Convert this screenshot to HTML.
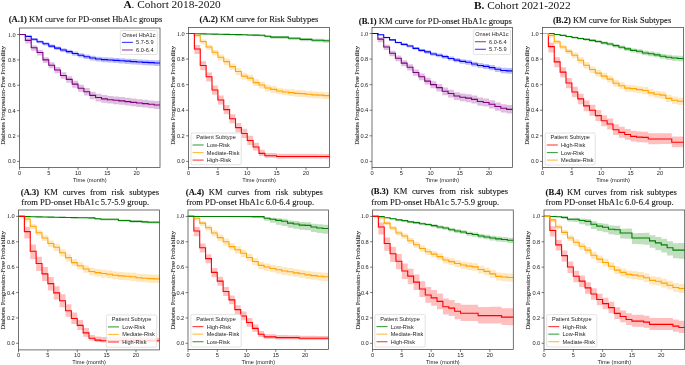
<!DOCTYPE html>
<html><head><meta charset="utf-8"><style>
html,body{margin:0;padding:0;background:#fff;overflow:hidden;}
svg{display:block;}
text{white-space:pre;}
.tk{font-family:"Liberation Sans",sans-serif;font-size:5.7px;fill:#262626;}
.ser{font-family:"Liberation Serif",serif;font-size:6.4px;fill:#262626;}
.yl{font-family:"Liberation Serif",serif;font-size:6.46px;fill:#1e1e1e;stroke:#1e1e1e;stroke-width:0.08px;}
.lg{font-family:"Liberation Sans",sans-serif;font-size:5.6px;fill:#262626;}
.ti{font-family:"Liberation Serif",serif;font-size:8.56px;fill:#111;stroke:#111;stroke-width:0.1px;}
.tib{font-family:"Liberation Serif",serif;font-size:8.56px;font-weight:bold;fill:#111;stroke:#111;stroke-width:0.1px;}
.hd{font-family:"Liberation Serif",serif;font-size:11.35px;fill:#111;}
</style></head><body>
<div style="will-change:transform;width:685px;height:365px"><svg width="685" height="365" viewBox="0 0 685 365">
<g>
<polygon points="25.35,35.68 31.21,35.68 31.21,38 37.06,38 37.06,40.4 42.92,40.4 42.92,42.31 48.77,42.31 48.77,44.61 54.62,44.61 54.62,46.41 60.48,46.41 60.48,48.21 66.33,48.21 66.33,49.76 72.19,49.76 72.19,51.56 78.04,51.56 78.04,53.23 83.9,53.23 83.9,54.53 89.75,54.53 89.75,55.7 95.6,55.7 95.6,56.68 101.46,56.68 101.46,57.27 107.31,57.27 107.31,57.61 113.17,57.61 113.17,57.96 119.02,57.96 119.02,58.3 124.88,58.3 124.88,58.64 130.73,58.64 130.73,59.11 136.58,59.11 136.58,59.45 142.44,59.45 142.44,59.79 148.29,59.79 148.29,60.01 154.15,60.01 154.15,60.35 160,60.35 160,65.99 154.15,65.99 154.15,65.57 148.29,65.57 148.29,65.27 142.44,65.27 142.44,64.85 136.58,64.85 136.58,64.43 130.73,64.43 130.73,63.88 124.88,63.88 124.88,63.46 119.02,63.46 119.02,63.04 113.17,63.04 113.17,62.61 107.31,62.61 107.31,62.19 101.46,62.19 101.46,61.52 95.6,61.52 95.6,60.46 89.75,60.46 89.75,59.09 83.9,59.09 83.9,57.59 78.04,57.59 78.04,55.72 72.19,55.72 72.19,53.71 66.33,53.71 66.33,51.97 60.48,51.97 60.48,49.96 54.62,49.96 54.62,47.97 48.77,47.97 48.77,45.47 42.92,45.47 42.92,43.36 37.06,43.36 37.06,40.78 31.21,40.78 31.21,37.56 25.35,37.56" fill="#0000ff" fill-opacity="0.25"/>
<polyline points="19.5,34.5 25.35,34.5 25.35,36.4 31.21,36.4 31.21,39.2 37.06,39.2 37.06,41.73 42.92,41.73 42.92,43.76 48.77,43.76 48.77,46.17 54.62,46.17 54.62,48.08 60.48,48.08 60.48,49.98 66.33,49.98 66.33,51.63 72.19,51.63 72.19,53.53 78.04,53.53 78.04,55.31 83.9,55.31 83.9,56.71 89.75,56.71 89.75,57.98 95.6,57.98 95.6,58.99 101.46,58.99 101.46,59.63 107.31,59.63 107.31,60.01 113.17,60.01 113.17,60.39 119.02,60.39 119.02,60.77 124.88,60.77 124.88,61.15 130.73,61.15 130.73,61.66 136.58,61.66 136.58,62.04 142.44,62.04 142.44,62.42 148.29,62.42 148.29,62.67 154.15,62.67 154.15,63.05 160,63.05" fill="none" stroke="#0000ff" stroke-width="1.1"/>
<polygon points="25.35,38.27 31.21,38.27 31.21,45.41 37.06,45.41 37.06,49.94 42.92,49.94 42.92,57.14 48.77,57.14 48.77,62.33 54.62,62.33 54.62,67.02 60.48,67.02 60.48,72.35 66.33,72.35 66.33,76.17 72.19,76.17 72.19,80.74 78.04,80.74 78.04,84.68 83.9,84.68 83.9,88.11 89.75,88.11 89.75,91.67 95.6,91.67 95.6,93.8 101.46,93.8 101.46,95.06 107.31,95.06 107.31,95.93 113.17,95.93 113.17,96.42 119.02,96.42 119.02,97.04 124.88,97.04 124.88,97.79 130.73,97.79 130.73,98.53 136.58,98.53 136.58,99.15 142.44,99.15 142.44,99.77 148.29,99.77 148.29,100.39 154.15,100.39 154.15,101.01 160,101.01 160,108.91 154.15,108.91 154.15,108.26 148.29,108.26 148.29,107.62 142.44,107.62 142.44,106.97 136.58,106.97 136.58,106.33 130.73,106.33 130.73,105.55 124.88,105.55 124.88,104.78 119.02,104.78 119.02,104.14 113.17,104.14 113.17,103.62 107.31,103.62 107.31,102.72 101.46,102.72 101.46,101.44 95.6,101.44 95.6,99.27 89.75,99.27 89.75,95.49 83.9,95.49 83.9,91.82 78.04,91.82 78.04,87.66 72.19,87.66 72.19,82.86 66.33,82.86 66.33,78.81 60.48,78.81 60.48,73.26 54.62,73.26 54.62,68.33 48.77,68.33 48.77,62.91 42.92,62.91 42.92,55.49 37.06,55.49 37.06,50.74 31.21,50.74 31.21,43.49 25.35,43.49" fill="#800080" fill-opacity="0.25"/>
<polyline points="19.5,34.5 25.35,34.5 25.35,40.34 31.21,40.34 31.21,47.82 37.06,47.82 37.06,52.52 42.92,52.52 42.92,59.88 48.77,59.88 48.77,65.21 54.62,65.21 54.62,70.03 60.48,70.03 60.48,75.49 66.33,75.49 66.33,79.42 72.19,79.42 72.19,84.12 78.04,84.12 78.04,88.18 83.9,88.18 83.9,91.73 89.75,91.73 89.75,95.41 95.6,95.41 95.6,97.57 101.46,97.57 101.46,98.84 107.31,98.84 107.31,99.73 113.17,99.73 113.17,100.23 119.02,100.23 119.02,100.87 124.88,100.87 124.88,101.63 130.73,101.63 130.73,102.39 136.58,102.39 136.58,103.03 142.44,103.03 142.44,103.66 148.29,103.66 148.29,104.3 154.15,104.3 154.15,104.93 160,104.93" fill="none" stroke="#800080" stroke-width="1.1"/>
<rect x="120.3" y="30.5" width="37" height="24" rx="1.2" fill="#fff" fill-opacity="0.8" stroke="#d0d0d0" stroke-width="0.6"/>
<text class="lg" x="138.8" y="37" text-anchor="middle">Onset HbA1c</text>
<line x1="121.9" y1="42.4" x2="132.9" y2="42.4" stroke="#0000ff" stroke-width="1.15" stroke-opacity="0.72"/>
<text class="lg" x="136.1" y="44.4">5.7-5.9</text>
<line x1="121.9" y1="50" x2="132.9" y2="50" stroke="#800080" stroke-width="1.15" stroke-opacity="0.72"/>
<text class="lg" x="136.1" y="52">6.0-6.4</text>
<rect x="19.5" y="28" width="140.5" height="139.5" fill="none" stroke="#444" stroke-width="0.75"/>
<line x1="17.1" y1="161.4" x2="19.5" y2="161.4" stroke="#444" stroke-width="0.7"/>
<text class="tk" x="15.8" y="163.4" text-anchor="end">0.0</text>
<line x1="17.1" y1="136.02" x2="19.5" y2="136.02" stroke="#444" stroke-width="0.7"/>
<text class="tk" x="15.8" y="138.02" text-anchor="end">0.2</text>
<line x1="17.1" y1="110.64" x2="19.5" y2="110.64" stroke="#444" stroke-width="0.7"/>
<text class="tk" x="15.8" y="112.64" text-anchor="end">0.4</text>
<line x1="17.1" y1="85.26" x2="19.5" y2="85.26" stroke="#444" stroke-width="0.7"/>
<text class="tk" x="15.8" y="87.26" text-anchor="end">0.6</text>
<line x1="17.1" y1="59.88" x2="19.5" y2="59.88" stroke="#444" stroke-width="0.7"/>
<text class="tk" x="15.8" y="61.88" text-anchor="end">0.8</text>
<line x1="17.1" y1="34.5" x2="19.5" y2="34.5" stroke="#444" stroke-width="0.7"/>
<text class="ser" x="15.8" y="36.5" text-anchor="end">1.0</text>
<line x1="19.5" y1="167.5" x2="19.5" y2="169.9" stroke="#444" stroke-width="0.7"/>
<text class="tk" x="19.5" y="175.2" text-anchor="middle">0</text>
<line x1="48.77" y1="167.5" x2="48.77" y2="169.9" stroke="#444" stroke-width="0.7"/>
<text class="tk" x="48.77" y="175.2" text-anchor="middle">5</text>
<line x1="78.04" y1="167.5" x2="78.04" y2="169.9" stroke="#444" stroke-width="0.7"/>
<text class="tk" x="78.04" y="175.2" text-anchor="middle">10</text>
<line x1="107.31" y1="167.5" x2="107.31" y2="169.9" stroke="#444" stroke-width="0.7"/>
<text class="tk" x="107.31" y="175.2" text-anchor="middle">15</text>
<line x1="136.58" y1="167.5" x2="136.58" y2="169.9" stroke="#444" stroke-width="0.7"/>
<text class="tk" x="136.58" y="175.2" text-anchor="middle">20</text>
<text class="tk" x="89.75" y="181.7" text-anchor="middle">Time (month)</text>
<text class="yl" transform="translate(4.9,95.35) rotate(-90)" text-anchor="middle">Diabetes Progression-Free Probability</text>
</g>
<g>
<polygon points="194.38,33.63 200.25,33.63 200.25,33.71 206.12,33.71 206.12,33.8 212,33.8 212,33.88 217.88,33.88 217.88,33.96 223.75,33.96 223.75,34.04 229.62,34.04 229.62,34.12 235.5,34.12 235.5,34.2 241.38,34.2 241.38,34.27 247.25,34.27 247.25,34.45 253.12,34.45 253.12,34.52 259,34.52 259,34.59 264.88,34.59 264.88,35.28 270.75,35.28 270.75,35.98 276.62,35.98 276.62,35.95 282.5,35.95 282.5,35.93 288.38,35.93 288.38,36.96 294.25,36.96 294.25,36.93 300.12,36.93 300.12,38.01 306,38.01 306,37.98 311.88,37.98 311.88,38.82 317.75,38.82 317.75,38.79 323.62,38.79 323.62,39.25 329.5,39.25 329.5,42.72 323.62,42.72 323.62,42.18 317.75,42.18 317.75,42.12 311.88,42.12 311.88,41.21 306,41.21 306,41.16 300.12,41.16 300.12,40.02 294.25,40.02 294.25,39.96 288.38,39.96 288.38,38.78 282.5,38.78 282.5,38.72 276.62,38.72 276.62,38.66 270.75,38.66 270.75,37.55 264.88,37.55 264.88,36.43 259,36.43 259,36.2 253.12,36.2 253.12,35.99 247.25,35.99 247.25,35.61 241.38,35.61 241.38,35.4 235.5,35.4 235.5,35.19 229.62,35.19 229.62,34.99 223.75,34.99 223.75,34.78 217.88,34.78 217.88,34.58 212,34.58 212,34.38 206.12,34.38 206.12,34.19 200.25,34.19 200.25,33.99 194.38,33.99" fill="#008000" fill-opacity="0.25"/>
<polyline points="188.5,33.5 194.38,33.5 194.38,33.76 200.25,33.76 200.25,33.88 206.12,33.88 206.12,34.01 212,34.01 212,34.14 217.88,34.14 217.88,34.27 223.75,34.27 223.75,34.4 229.62,34.4 229.62,34.52 235.5,34.52 235.5,34.65 241.38,34.65 241.38,34.78 247.25,34.78 247.25,35.03 253.12,35.03 253.12,35.16 259,35.16 259,35.29 264.88,35.29 264.88,36.19 270.75,36.19 270.75,37.08 276.62,37.08 276.62,37.08 282.5,37.08 282.5,37.08 288.38,37.08 288.38,38.23 294.25,38.23 294.25,38.23 300.12,38.23 300.12,39.38 306,39.38 306,39.38 311.88,39.38 311.88,40.28 317.75,40.28 317.75,40.28 323.62,40.28 323.62,40.79 329.5,40.79" fill="none" stroke="#008000" stroke-width="1.1"/>
<polygon points="194.38,34.5 200.25,34.5 200.25,39.6 206.12,39.6 206.12,44.85 212,44.85 212,49.76 217.88,49.76 217.88,54.42 223.75,54.42 223.75,58.45 229.62,58.45 229.62,63.41 235.5,63.41 235.5,68.24 241.38,68.24 241.38,72.83 247.25,72.83 247.25,74.87 253.12,74.87 253.12,79.33 259,79.33 259,81.76 264.88,81.76 264.88,84.69 270.75,84.69 270.75,86.09 276.62,86.09 276.62,87.63 282.5,87.63 282.5,88.65 288.38,88.65 288.38,89.28 294.25,89.28 294.25,90.05 300.12,90.05 300.12,90.31 306,90.31 306,90.94 311.88,90.94 311.88,91.58 317.75,91.58 317.75,91.84 323.62,91.84 323.62,92.35 329.5,92.35 329.5,99.06 323.62,99.06 323.62,98.55 317.75,98.55 317.75,98.29 311.88,98.29 311.88,97.65 306,97.65 306,97.02 300.12,97.02 300.12,96.76 294.25,96.76 294.25,96 288.38,96 288.38,95.36 282.5,95.36 282.5,94.34 276.62,94.34 276.62,92.81 270.75,92.81 270.75,91.4 264.88,91.4 264.88,88.47 259,88.47 259,86.05 253.12,86.05 253.12,81.58 247.25,81.58 247.25,79.54 241.38,79.54 241.38,74.96 235.5,74.96 235.5,70.12 229.62,70.12 229.62,65.17 223.75,65.17 223.75,60.5 217.88,60.5 217.88,55.2 212,55.2 212,49.66 206.12,49.66 206.12,43.79 200.25,43.79 200.25,37.18 194.38,37.18" fill="#ffa500" fill-opacity="0.25"/>
<polyline points="188.5,33.5 194.38,33.5 194.38,35.42 200.25,35.42 200.25,41.43 206.12,41.43 206.12,47.06 212,47.06 212,52.3 217.88,52.3 217.88,57.29 223.75,57.29 223.75,61.64 229.62,61.64 229.62,66.63 235.5,66.63 235.5,71.49 241.38,71.49 241.38,76.09 247.25,76.09 247.25,78.14 253.12,78.14 253.12,82.61 259,82.61 259,85.04 264.88,85.04 264.88,87.99 270.75,87.99 270.75,89.39 276.62,89.39 276.62,90.93 282.5,90.93 282.5,91.95 288.38,91.95 288.38,92.59 294.25,92.59 294.25,93.36 300.12,93.36 300.12,93.61 306,93.61 306,94.25 311.88,94.25 311.88,94.89 317.75,94.89 317.75,95.15 323.62,95.15 323.62,95.66 329.5,95.66" fill="none" stroke="#ffa500" stroke-width="1.1"/>
<polygon points="194.38,45.06 200.25,45.06 200.25,61.24 206.12,61.24 206.12,72.39 212,72.39 212,85.61 217.88,85.61 217.88,95.53 223.75,95.53 223.75,105.06 229.62,105.06 229.62,114.21 235.5,114.21 235.5,122.97 241.38,122.97 241.38,128.78 247.25,128.78 247.25,135.7 253.12,135.7 253.12,142.78 259,142.78 259,149.81 264.88,149.81 264.88,153.02 270.75,153.02 270.75,153.04 276.62,153.04 276.62,153.76 282.5,153.76 282.5,153.78 288.38,153.78 288.38,153.8 294.25,153.8 294.25,153.81 300.12,153.81 300.12,153.83 306,153.83 306,153.85 311.88,153.85 311.88,153.87 317.75,153.87 317.75,153.89 323.62,153.89 323.62,153.91 329.5,153.91 329.5,158.45 323.62,158.45 323.62,158.46 317.75,158.46 317.75,158.47 311.88,158.47 311.88,158.48 306,158.48 306,158.49 300.12,158.49 300.12,158.5 294.25,158.5 294.25,158.51 288.38,158.51 288.38,158.52 282.5,158.52 282.5,158.53 276.62,158.53 276.62,157.82 270.75,157.82 270.75,157.84 264.88,157.84 264.88,156.1 259,156.1 259,150.55 253.12,150.55 253.12,144.94 247.25,144.94 247.25,137.99 241.38,137.99 241.38,132.15 235.5,132.15 235.5,123.36 229.62,123.36 229.62,114.18 223.75,114.18 223.75,104.61 217.88,104.61 217.88,94.66 212,94.66 212,81.41 206.12,81.41 206.12,70.23 200.25,70.23 200.25,54.1 194.38,54.1" fill="#ff0000" fill-opacity="0.25"/>
<polyline points="188.5,33.5 194.38,33.5 194.38,48.98 200.25,48.98 200.25,65.47 206.12,65.47 206.12,76.73 212,76.73 212,90.03 217.88,90.03 217.88,100.01 223.75,100.01 223.75,109.6 229.62,109.6 229.62,118.81 235.5,118.81 235.5,127.63 241.38,127.63 241.38,133.52 247.25,133.52 247.25,140.55 253.12,140.55 253.12,146.95 259,146.95 259,153.34 264.88,153.34 264.88,155.77 270.75,155.77 270.75,155.77 276.62,155.77 276.62,156.54 282.5,156.54 282.5,156.54 288.38,156.54 288.38,156.54 294.25,156.54 294.25,156.54 300.12,156.54 300.12,156.54 306,156.54 306,156.54 311.88,156.54 311.88,156.54 317.75,156.54 317.75,156.54 323.62,156.54 323.62,156.54 329.5,156.54" fill="none" stroke="#ff0000" stroke-width="1.1"/>
<rect x="191" y="133" width="50.2" height="31.7" rx="1.2" fill="#fff" fill-opacity="0.8" stroke="#d0d0d0" stroke-width="0.6"/>
<text class="lg" x="216.1" y="138.7" text-anchor="middle">Patient Subtype</text>
<line x1="192.6" y1="145" x2="203.6" y2="145" stroke="#008000" stroke-width="1.15" stroke-opacity="0.72"/>
<text class="lg" x="206.8" y="147">Low-Risk</text>
<line x1="192.6" y1="152.55" x2="203.6" y2="152.55" stroke="#ffa500" stroke-width="1.15" stroke-opacity="0.72"/>
<text class="lg" x="206.8" y="154.55">Mediate-Risk</text>
<line x1="192.6" y1="160.1" x2="203.6" y2="160.1" stroke="#ff0000" stroke-width="1.15" stroke-opacity="0.72"/>
<text class="lg" x="206.8" y="162.1">High-Risk</text>
<rect x="188.5" y="27.5" width="141" height="140" fill="none" stroke="#444" stroke-width="0.75"/>
<line x1="186.1" y1="161.4" x2="188.5" y2="161.4" stroke="#444" stroke-width="0.7"/>
<text class="tk" x="184.8" y="163.4" text-anchor="end">0.0</text>
<line x1="186.1" y1="135.82" x2="188.5" y2="135.82" stroke="#444" stroke-width="0.7"/>
<text class="tk" x="184.8" y="137.82" text-anchor="end">0.2</text>
<line x1="186.1" y1="110.24" x2="188.5" y2="110.24" stroke="#444" stroke-width="0.7"/>
<text class="tk" x="184.8" y="112.24" text-anchor="end">0.4</text>
<line x1="186.1" y1="84.66" x2="188.5" y2="84.66" stroke="#444" stroke-width="0.7"/>
<text class="tk" x="184.8" y="86.66" text-anchor="end">0.6</text>
<line x1="186.1" y1="59.08" x2="188.5" y2="59.08" stroke="#444" stroke-width="0.7"/>
<text class="tk" x="184.8" y="61.08" text-anchor="end">0.8</text>
<line x1="186.1" y1="33.5" x2="188.5" y2="33.5" stroke="#444" stroke-width="0.7"/>
<text class="ser" x="184.8" y="35.5" text-anchor="end">1.0</text>
<line x1="188.5" y1="167.5" x2="188.5" y2="169.9" stroke="#444" stroke-width="0.7"/>
<text class="tk" x="188.5" y="175.2" text-anchor="middle">0</text>
<line x1="217.88" y1="167.5" x2="217.88" y2="169.9" stroke="#444" stroke-width="0.7"/>
<text class="tk" x="217.88" y="175.2" text-anchor="middle">5</text>
<line x1="247.25" y1="167.5" x2="247.25" y2="169.9" stroke="#444" stroke-width="0.7"/>
<text class="tk" x="247.25" y="175.2" text-anchor="middle">10</text>
<line x1="276.62" y1="167.5" x2="276.62" y2="169.9" stroke="#444" stroke-width="0.7"/>
<text class="tk" x="276.62" y="175.2" text-anchor="middle">15</text>
<line x1="306" y1="167.5" x2="306" y2="169.9" stroke="#444" stroke-width="0.7"/>
<text class="tk" x="306" y="175.2" text-anchor="middle">20</text>
<text class="tk" x="259" y="181.7" text-anchor="middle">Time (month)</text>
<text class="yl" transform="translate(174.9,95.35) rotate(-90)" text-anchor="middle">Diabetes Progression-Free Probability</text>
</g>
<g>
<polygon points="377.85,37.13 383.71,37.13 383.71,44.7 389.56,44.7 389.56,50.78 395.42,50.78 395.42,55.62 401.27,55.62 401.27,60.34 407.12,60.34 407.12,64.3 412.98,64.3 412.98,69.4 418.83,69.4 418.83,73.49 424.69,73.49 424.69,77.7 430.54,77.7 430.54,81.16 436.4,81.16 436.4,83.97 442.25,83.97 442.25,87.55 448.1,87.55 448.1,89.68 453.96,89.68 453.96,92.19 459.81,92.19 459.81,93.43 465.67,93.43 465.67,94.16 471.52,94.16 471.52,95.39 477.38,95.39 477.38,97.52 483.23,97.52 483.23,98.38 489.08,98.38 489.08,100.13 494.94,100.13 494.94,102.38 500.79,102.38 500.79,104.13 506.65,104.13 506.65,105.11 512.5,105.11 512.5,113.62 506.65,113.62 506.65,112.56 500.79,112.56 500.79,110.74 494.94,110.74 494.94,108.4 489.08,108.4 489.08,106.58 483.23,106.58 483.23,105.65 477.38,105.65 477.38,103.44 471.52,103.44 471.52,102.13 465.67,102.13 465.67,101.33 459.81,101.33 459.81,100.01 453.96,100.01 453.96,97.42 448.1,97.42 448.1,95.21 442.25,95.21 442.25,91.39 436.4,91.39 436.4,88.32 430.54,88.32 430.54,84.62 424.69,84.62 424.69,80.16 418.83,80.16 418.83,75.82 412.98,75.82 412.98,70.46 407.12,70.46 407.12,66.26 401.27,66.26 401.27,61.29 395.42,61.29 395.42,56.2 389.56,56.2 389.56,49.88 383.71,49.88 383.71,42.18 377.85,42.18" fill="#800080" fill-opacity="0.25"/>
<polyline points="372,33.5 377.85,33.5 377.85,39.13 383.71,39.13 383.71,47.06 389.56,47.06 389.56,53.32 395.42,53.32 395.42,58.31 401.27,58.31 401.27,63.17 407.12,63.17 407.12,67.27 412.98,67.27 412.98,72.51 418.83,72.51 418.83,76.73 424.69,76.73 424.69,81.08 430.54,81.08 430.54,84.66 436.4,84.66 436.4,87.6 442.25,87.6 442.25,91.31 448.1,91.31 448.1,93.49 453.96,93.49 453.96,96.04 459.81,96.04 459.81,97.32 465.67,97.32 465.67,98.09 471.52,98.09 471.52,99.37 477.38,99.37 477.38,101.54 483.23,101.54 483.23,102.44 489.08,102.44 489.08,104.23 494.94,104.23 494.94,106.53 500.79,106.53 500.79,108.32 506.65,108.32 506.65,109.34 512.5,109.34" fill="none" stroke="#800080" stroke-width="1.1"/>
<polygon points="377.85,34.4 383.71,34.4 383.71,36.68 389.56,36.68 389.56,38.98 395.42,38.98 395.42,41.41 401.27,41.41 401.27,43.22 407.12,43.22 407.12,44.77 412.98,44.77 412.98,46.96 418.83,46.96 418.83,48.9 424.69,48.9 424.69,50.32 430.54,50.32 430.54,52.26 436.4,52.26 436.4,53.43 442.25,53.43 442.25,54.73 448.1,54.73 448.1,56.44 453.96,56.44 453.96,58.03 459.81,58.03 459.81,59.23 465.67,59.23 465.67,60.05 471.52,60.05 471.52,61.64 477.38,61.64 477.38,63.1 483.23,63.1 483.23,63.92 489.08,63.92 489.08,65.12 494.94,65.12 494.94,66.71 500.79,66.71 500.79,67.78 506.65,67.78 506.65,68.09 512.5,68.09 512.5,73.77 506.65,73.77 506.65,73.31 500.79,73.31 500.79,72.08 494.94,72.08 494.94,70.34 489.08,70.34 489.08,68.98 483.23,68.98 483.23,68.01 477.38,68.01 477.38,66.4 471.52,66.4 471.52,64.66 465.67,64.66 465.67,63.68 459.81,63.68 459.81,62.33 453.96,62.33 453.96,60.59 448.1,60.59 448.1,58.72 442.25,58.72 442.25,57.2 436.4,57.2 436.4,55.81 430.54,55.81 430.54,53.65 424.69,53.65 424.69,52 418.83,52 418.83,49.84 412.98,49.84 412.98,47.43 407.12,47.43 407.12,45.65 401.27,45.65 401.27,43.62 395.42,43.62 395.42,40.96 389.56,40.96 389.56,38.45 383.71,38.45 383.71,35.31 377.85,35.31" fill="#0000ff" fill-opacity="0.25"/>
<polyline points="372,33.5 377.85,33.5 377.85,34.78 383.71,34.78 383.71,37.46 389.56,37.46 389.56,39.9 395.42,39.9 395.42,42.45 401.27,42.45 401.27,44.37 407.12,44.37 407.12,46.03 412.98,46.03 412.98,48.34 418.83,48.34 418.83,50.38 424.69,50.38 424.69,51.92 430.54,51.92 430.54,53.96 436.4,53.96 436.4,55.24 442.25,55.24 442.25,56.65 448.1,56.65 448.1,58.44 453.96,58.44 453.96,60.1 459.81,60.1 459.81,61.38 465.67,61.38 465.67,62.28 471.52,62.28 471.52,63.94 477.38,63.94 477.38,65.47 483.23,65.47 483.23,66.37 489.08,66.37 489.08,67.65 494.94,67.65 494.94,69.31 500.79,69.31 500.79,70.46 506.65,70.46 506.65,70.85 512.5,70.85" fill="none" stroke="#0000ff" stroke-width="1.1"/>
<rect x="473.3" y="29.8" width="37.2" height="24.7" rx="1.2" fill="#fff" fill-opacity="0.8" stroke="#d0d0d0" stroke-width="0.6"/>
<text class="lg" x="491.9" y="36.3" text-anchor="middle">Onset HbA1c</text>
<line x1="474.9" y1="41.7" x2="485.9" y2="41.7" stroke="#800080" stroke-width="1.15" stroke-opacity="0.72"/>
<text class="lg" x="489.1" y="43.7">6.0-6.4</text>
<line x1="474.9" y1="49.3" x2="485.9" y2="49.3" stroke="#0000ff" stroke-width="1.15" stroke-opacity="0.72"/>
<text class="lg" x="489.1" y="51.3">5.7-5.9</text>
<rect x="372" y="27.5" width="140.5" height="140" fill="none" stroke="#444" stroke-width="0.75"/>
<line x1="369.6" y1="161.4" x2="372" y2="161.4" stroke="#444" stroke-width="0.7"/>
<text class="tk" x="368.3" y="163.4" text-anchor="end">0.0</text>
<line x1="369.6" y1="135.82" x2="372" y2="135.82" stroke="#444" stroke-width="0.7"/>
<text class="tk" x="368.3" y="137.82" text-anchor="end">0.2</text>
<line x1="369.6" y1="110.24" x2="372" y2="110.24" stroke="#444" stroke-width="0.7"/>
<text class="tk" x="368.3" y="112.24" text-anchor="end">0.4</text>
<line x1="369.6" y1="84.66" x2="372" y2="84.66" stroke="#444" stroke-width="0.7"/>
<text class="tk" x="368.3" y="86.66" text-anchor="end">0.6</text>
<line x1="369.6" y1="59.08" x2="372" y2="59.08" stroke="#444" stroke-width="0.7"/>
<text class="tk" x="368.3" y="61.08" text-anchor="end">0.8</text>
<line x1="369.6" y1="33.5" x2="372" y2="33.5" stroke="#444" stroke-width="0.7"/>
<text class="ser" x="368.3" y="35.5" text-anchor="end">1.0</text>
<line x1="372" y1="167.5" x2="372" y2="169.9" stroke="#444" stroke-width="0.7"/>
<text class="tk" x="372" y="175.2" text-anchor="middle">0</text>
<line x1="401.27" y1="167.5" x2="401.27" y2="169.9" stroke="#444" stroke-width="0.7"/>
<text class="tk" x="401.27" y="175.2" text-anchor="middle">5</text>
<line x1="430.54" y1="167.5" x2="430.54" y2="169.9" stroke="#444" stroke-width="0.7"/>
<text class="tk" x="430.54" y="175.2" text-anchor="middle">10</text>
<line x1="459.81" y1="167.5" x2="459.81" y2="169.9" stroke="#444" stroke-width="0.7"/>
<text class="tk" x="459.81" y="175.2" text-anchor="middle">15</text>
<line x1="489.08" y1="167.5" x2="489.08" y2="169.9" stroke="#444" stroke-width="0.7"/>
<text class="tk" x="489.08" y="175.2" text-anchor="middle">20</text>
<text class="tk" x="442.25" y="181.7" text-anchor="middle">Time (month)</text>
<text class="yl" transform="translate(358.6,95.35) rotate(-90)" text-anchor="middle">Diabetes Progression-Free Probability</text>
</g>
<g>
<polygon points="548.38,42.58 554.25,42.58 554.25,57.3 560.12,57.3 560.12,67.33 566,67.33 566,78.04 571.88,78.04 571.88,86.86 577.75,86.86 577.75,93.64 583.62,93.64 583.62,100.54 589.5,100.54 589.5,104.78 595.38,104.78 595.38,110.12 601.25,110.12 601.25,115.21 607.12,115.21 607.12,118.52 613,118.52 613,124.22 618.88,124.22 618.88,126.76 624.75,126.76 624.75,128.91 630.62,128.91 630.62,130.68 636.5,130.68 636.5,131.44 642.38,131.44 642.38,131.7 648.25,131.7 648.25,133.34 654.12,133.34 654.12,133.35 660,133.35 660,133.36 665.88,133.36 665.88,133.37 671.75,133.37 671.75,136.49 677.62,136.49 677.62,136.5 683.5,136.5 683.5,147.22 677.62,147.22 677.62,147.23 671.75,147.23 671.75,144.12 665.88,144.12 665.88,144.12 660,144.12 660,144.13 654.12,144.13 654.12,144.14 648.25,144.14 648.25,142.52 642.38,142.52 642.38,142.27 636.5,142.27 636.5,141.53 630.62,141.53 630.62,139.78 624.75,139.78 624.75,137.64 618.88,137.64 618.88,135.12 613,135.12 613,129.44 607.12,129.44 607.12,126.15 601.25,126.15 601.25,121.08 595.38,121.08 595.38,115.75 589.5,115.75 589.5,111.34 583.62,111.34 583.62,104.26 577.75,104.26 577.75,97.29 571.88,97.29 571.88,88.3 566,88.3 566,77.42 560.12,77.42 560.12,67.22 554.25,67.22 554.25,52.47 548.38,52.47" fill="#ff0000" fill-opacity="0.25"/>
<polyline points="542.5,33.5 548.38,33.5 548.38,46.67 554.25,46.67 554.25,61.89 560.12,61.89 560.12,72.13 566,72.13 566,83 571.88,83 571.88,91.95 577.75,91.95 577.75,98.86 583.62,98.86 583.62,105.89 589.5,105.89 589.5,110.24 595.38,110.24 595.38,115.61 601.25,115.61 601.25,120.73 607.12,120.73 607.12,124.05 613,124.05 613,129.81 618.88,129.81 618.88,132.37 624.75,132.37 624.75,134.54 630.62,134.54 630.62,136.33 636.5,136.33 636.5,137.1 642.38,137.1 642.38,137.35 648.25,137.35 648.25,139.02 654.12,139.02 654.12,139.02 660,139.02 660,139.02 665.88,139.02 665.88,139.02 671.75,139.02 671.75,142.22 677.62,142.22 677.62,142.22 683.5,142.22" fill="none" stroke="#ff0000" stroke-width="1.1"/>
<polygon points="548.38,33.5 554.25,33.5 554.25,34.2 560.12,34.2 560.12,34.9 566,34.9 566,35.71 571.88,35.71 571.88,36.53 577.75,36.53 577.75,37.45 583.62,37.45 583.62,38.24 589.5,38.24 589.5,39.16 595.38,39.16 595.38,40.08 601.25,40.08 601.25,41.38 607.12,41.38 607.12,42.43 613,42.43 613,43.98 618.88,43.98 618.88,45.55 624.75,45.55 624.75,47 630.62,47 630.62,48.45 636.5,48.45 636.5,49.26 642.38,49.26 642.38,50.84 648.25,50.84 648.25,51.52 654.12,51.52 654.12,52.59 660,52.59 660,53.91 665.88,53.91 665.88,54.85 671.75,54.85 671.75,55.41 677.62,55.41 677.62,55.84 683.5,55.84 683.5,61.3 677.62,61.3 677.62,60.7 671.75,60.7 671.75,59.97 665.88,59.97 665.88,58.86 660,58.86 660,57.37 654.12,57.37 654.12,56.13 648.25,56.13 648.25,55.28 642.38,55.28 642.38,53.53 636.5,53.53 636.5,52.55 630.62,52.55 630.62,50.93 624.75,50.93 624.75,49.31 618.88,49.31 618.88,47.57 613,47.57 613,45.81 607.12,45.81 607.12,44.55 601.25,44.55 601.25,43.05 595.38,43.05 595.38,41.92 589.5,41.92 589.5,40.79 583.62,40.79 583.62,39.79 577.75,39.79 577.75,38.67 571.88,38.67 571.88,37.41 566,37.41 566,36.13 560.12,36.13 560.12,35 554.25,35 554.25,33.5 548.38,33.5" fill="#008000" fill-opacity="0.25"/>
<polyline points="542.5,33.5 548.38,33.5 548.38,33.5 554.25,33.5 554.25,34.52 560.12,34.52 560.12,35.42 566,35.42 566,36.44 571.88,36.44 571.88,37.46 577.75,37.46 577.75,38.49 583.62,38.49 583.62,39.38 589.5,39.38 589.5,40.41 595.38,40.41 595.38,41.43 601.25,41.43 601.25,42.84 607.12,42.84 607.12,43.99 613,43.99 613,45.65 618.88,45.65 618.88,47.31 624.75,47.31 624.75,48.85 630.62,48.85 630.62,50.38 636.5,50.38 636.5,51.28 642.38,51.28 642.38,52.94 648.25,52.94 648.25,53.71 654.12,53.71 654.12,54.86 660,54.86 660,56.27 665.88,56.27 665.88,57.29 671.75,57.29 671.75,57.93 677.62,57.93 677.62,58.44 683.5,58.44" fill="none" stroke="#008000" stroke-width="1.1"/>
<polygon points="548.38,34.44 554.25,34.44 554.25,39.89 560.12,39.89 560.12,44.7 566,44.7 566,48.9 571.88,48.9 571.88,52.47 577.75,52.47 577.75,57.2 583.62,57.2 583.62,62.12 589.5,62.12 589.5,66.42 595.38,66.42 595.38,69.95 601.25,69.95 601.25,72.85 607.12,72.85 607.12,75.87 613,75.87 613,79.92 618.88,79.92 618.88,82.31 624.75,82.31 624.75,84.7 630.62,84.7 630.62,85.17 636.5,85.17 636.5,86.16 642.38,86.16 642.38,87.02 648.25,87.02 648.25,89.28 654.12,89.28 654.12,90.65 660,90.65 660,91.51 665.88,91.51 665.88,94.66 671.75,94.66 671.75,96.54 677.62,96.54 677.62,97.53 683.5,97.53 683.5,105.12 677.62,105.12 677.62,104.07 671.75,104.07 671.75,102.12 665.88,102.12 665.88,98.89 660,98.89 660,97.96 654.12,97.96 654.12,96.53 648.25,96.53 648.25,94.19 642.38,94.19 642.38,93.26 636.5,93.26 636.5,92.21 630.62,92.21 630.62,91.66 624.75,91.66 624.75,89.2 618.88,89.2 618.88,86.74 613,86.74 613,82.62 607.12,82.62 607.12,79.53 601.25,79.53 601.25,76.56 595.38,76.56 595.38,72.95 589.5,72.95 589.5,68.59 583.62,68.59 583.62,63.6 577.75,63.6 577.75,58.37 571.88,58.37 571.88,54.28 566,54.28 566,49.58 560.12,49.58 560.12,44.28 554.25,44.28 554.25,37.4 548.38,37.4" fill="#ffa500" fill-opacity="0.25"/>
<polyline points="542.5,33.5 548.38,33.5 548.38,35.42 554.25,35.42 554.25,41.81 560.12,41.81 560.12,46.93 566,46.93 566,51.41 571.88,51.41 571.88,55.24 577.75,55.24 577.75,60.23 583.62,60.23 583.62,65.22 589.5,65.22 589.5,69.57 595.38,69.57 595.38,73.15 601.25,73.15 601.25,76.09 607.12,76.09 607.12,79.16 613,79.16 613,83.25 618.88,83.25 618.88,85.68 624.75,85.68 624.75,88.11 630.62,88.11 630.62,88.62 636.5,88.62 636.5,89.65 642.38,89.65 642.38,90.54 648.25,90.54 648.25,92.85 654.12,92.85 654.12,94.25 660,94.25 660,95.15 665.88,95.15 665.88,98.35 671.75,98.35 671.75,100.26 677.62,100.26 677.62,101.29 683.5,101.29" fill="none" stroke="#ffa500" stroke-width="1.1"/>
<rect x="545.2" y="133" width="50" height="32" rx="1.2" fill="#fff" fill-opacity="0.8" stroke="#d0d0d0" stroke-width="0.6"/>
<text class="lg" x="570.2" y="138.7" text-anchor="middle">Patient Subtype</text>
<line x1="546.8" y1="145" x2="557.8" y2="145" stroke="#ff0000" stroke-width="1.15" stroke-opacity="0.72"/>
<text class="lg" x="561" y="147">High-Risk</text>
<line x1="546.8" y1="152.55" x2="557.8" y2="152.55" stroke="#008000" stroke-width="1.15" stroke-opacity="0.72"/>
<text class="lg" x="561" y="154.55">Low-Risk</text>
<line x1="546.8" y1="160.1" x2="557.8" y2="160.1" stroke="#ffa500" stroke-width="1.15" stroke-opacity="0.72"/>
<text class="lg" x="561" y="162.1">Mediate-Risk</text>
<rect x="542.5" y="27.5" width="141" height="140" fill="none" stroke="#444" stroke-width="0.75"/>
<line x1="540.1" y1="161.4" x2="542.5" y2="161.4" stroke="#444" stroke-width="0.7"/>
<text class="tk" x="538.8" y="163.4" text-anchor="end">0.0</text>
<line x1="540.1" y1="135.82" x2="542.5" y2="135.82" stroke="#444" stroke-width="0.7"/>
<text class="tk" x="538.8" y="137.82" text-anchor="end">0.2</text>
<line x1="540.1" y1="110.24" x2="542.5" y2="110.24" stroke="#444" stroke-width="0.7"/>
<text class="tk" x="538.8" y="112.24" text-anchor="end">0.4</text>
<line x1="540.1" y1="84.66" x2="542.5" y2="84.66" stroke="#444" stroke-width="0.7"/>
<text class="tk" x="538.8" y="86.66" text-anchor="end">0.6</text>
<line x1="540.1" y1="59.08" x2="542.5" y2="59.08" stroke="#444" stroke-width="0.7"/>
<text class="tk" x="538.8" y="61.08" text-anchor="end">0.8</text>
<line x1="540.1" y1="33.5" x2="542.5" y2="33.5" stroke="#444" stroke-width="0.7"/>
<text class="ser" x="538.8" y="35.5" text-anchor="end">1.0</text>
<line x1="542.5" y1="167.5" x2="542.5" y2="169.9" stroke="#444" stroke-width="0.7"/>
<text class="tk" x="542.5" y="175.2" text-anchor="middle">0</text>
<line x1="571.88" y1="167.5" x2="571.88" y2="169.9" stroke="#444" stroke-width="0.7"/>
<text class="tk" x="571.88" y="175.2" text-anchor="middle">5</text>
<line x1="601.25" y1="167.5" x2="601.25" y2="169.9" stroke="#444" stroke-width="0.7"/>
<text class="tk" x="601.25" y="175.2" text-anchor="middle">10</text>
<line x1="630.62" y1="167.5" x2="630.62" y2="169.9" stroke="#444" stroke-width="0.7"/>
<text class="tk" x="630.62" y="175.2" text-anchor="middle">15</text>
<line x1="660" y1="167.5" x2="660" y2="169.9" stroke="#444" stroke-width="0.7"/>
<text class="tk" x="660" y="175.2" text-anchor="middle">20</text>
<text class="tk" x="613" y="181.7" text-anchor="middle">Time (month)</text>
<text class="yl" transform="translate(528.6,95.35) rotate(-90)" text-anchor="middle">Diabetes Progression-Free Probability</text>
</g>
<g>
<polygon points="24.38,216.55 30.25,216.55 30.25,216.63 36.12,216.63 36.12,216.71 42,216.71 42,216.79 47.88,216.79 47.88,216.87 53.75,216.87 53.75,216.95 59.62,216.95 59.62,217.02 65.5,217.02 65.5,217.1 71.38,217.1 71.38,217.17 77.25,217.17 77.25,217.25 83.12,217.25 83.12,217.32 89,217.32 89,217.39 94.88,217.39 94.88,218.1 100.75,218.1 100.75,218.51 106.62,218.51 106.62,218.49 112.5,218.49 112.5,218.47 118.38,218.47 118.38,219.44 124.25,219.44 124.25,219.42 130.12,219.42 130.12,220.25 136,220.25 136,220.23 141.88,220.23 141.88,220.7 147.75,220.7 147.75,221.04 153.62,221.04 153.62,221.02 159.5,221.02 159.5,223.77 153.62,223.77 153.62,223.73 147.75,223.73 147.75,223.32 141.88,223.32 141.88,222.79 136,222.79 136,222.75 130.12,222.75 130.12,221.86 124.25,221.86 124.25,221.82 118.38,221.82 118.38,220.51 112.5,220.51 112.5,220.47 106.62,220.47 106.62,220.44 100.75,220.44 100.75,219.81 94.88,219.81 94.88,218.73 89,218.73 89,218.55 83.12,218.55 83.12,218.37 77.25,218.37 77.25,218.19 71.38,218.19 71.38,218.01 65.5,218.01 65.5,217.84 59.62,217.84 59.62,217.66 53.75,217.66 53.75,217.49 47.88,217.49 47.88,217.32 42,217.32 42,217.16 36.12,217.16 36.12,216.99 30.25,216.99 30.25,216.83 24.38,216.83" fill="#008000" fill-opacity="0.25"/>
<polyline points="18.5,216.4 24.38,216.4 24.38,216.65 30.25,216.65 30.25,216.77 36.12,216.77 36.12,216.88 42,216.88 42,217 47.88,217 47.88,217.12 53.75,217.12 53.75,217.23 59.62,217.23 59.62,217.35 65.5,217.35 65.5,217.46 71.38,217.46 71.38,217.58 77.25,217.58 77.25,217.69 83.12,217.69 83.12,217.81 89,217.81 89,217.92 94.88,217.92 94.88,218.81 100.75,218.81 100.75,219.32 106.62,219.32 106.62,219.32 112.5,219.32 112.5,219.32 118.38,219.32 118.38,220.46 124.25,220.46 124.25,220.46 130.12,220.46 130.12,221.35 136,221.35 136,221.35 141.88,221.35 141.88,221.86 147.75,221.86 147.75,222.24 153.62,222.24 153.62,222.24 159.5,222.24" fill="none" stroke="#008000" stroke-width="1.1"/>
<polygon points="24.38,217.8 30.25,217.8 30.25,224.21 36.12,224.21 36.12,230.32 42,230.32 42,235.2 47.88,235.2 47.88,240.47 53.75,240.47 53.75,243.85 59.62,243.85 59.62,249.24 65.5,249.24 65.5,254.14 71.38,254.14 71.38,259.03 77.25,259.03 77.25,262.16 83.12,262.16 83.12,265.29 89,265.29 89,267.79 94.88,267.79 94.88,268.89 100.75,268.89 100.75,269.74 106.62,269.74 106.62,270.47 112.5,270.47 112.5,271.45 118.38,271.45 118.38,272.04 124.25,272.04 124.25,272.39 130.12,272.39 130.12,272.86 136,272.86 136,273.71 141.88,273.71 141.88,274.19 147.75,274.19 147.75,274.53 153.62,274.53 153.62,274.75 159.5,274.75 159.5,283.05 153.62,283.05 153.62,282.76 147.75,282.76 147.75,282.34 141.88,282.34 141.88,281.8 136,281.8 136,280.88 130.12,280.88 130.12,280.34 124.25,280.34 124.25,279.92 118.38,279.92 118.38,279.25 112.5,279.25 112.5,278.2 106.62,278.2 106.62,277.41 100.75,277.41 100.75,276.49 94.88,276.49 94.88,275.31 89,275.31 89,272.75 83.12,272.75 83.12,269.55 77.25,269.55 77.25,266.35 71.38,266.35 71.38,261.38 65.5,261.38 65.5,256.42 59.62,256.42 59.62,250.96 53.75,250.96 53.75,246.98 47.88,246.98 47.88,241.1 42,241.1 42,235.61 36.12,235.61 36.12,228.92 30.25,228.92 30.25,221.44 24.38,221.44" fill="#ffa500" fill-opacity="0.25"/>
<polyline points="18.5,216.4 24.38,216.4 24.38,219.06 30.25,219.06 30.25,226.3 36.12,226.3 36.12,232.77 42,232.77 42,237.97 47.88,237.97 47.88,243.56 53.75,243.56 53.75,247.24 59.62,247.24 59.62,252.69 65.5,252.69 65.5,257.64 71.38,257.64 71.38,262.59 77.25,262.59 77.25,265.76 83.12,265.76 83.12,268.94 89,268.94 89,271.47 94.88,271.47 94.88,272.62 100.75,272.62 100.75,273.5 106.62,273.5 106.62,274.27 112.5,274.27 112.5,275.28 118.38,275.28 118.38,275.92 124.25,275.92 124.25,276.3 130.12,276.3 130.12,276.8 136,276.8 136,277.69 141.88,277.69 141.88,278.2 147.75,278.2 147.75,278.58 153.62,278.58 153.62,278.83 159.5,278.83" fill="none" stroke="#ffa500" stroke-width="1.1"/>
<polygon points="24.38,226.82 30.25,226.82 30.25,244.55 36.12,244.55 36.12,256.67 42,256.67 42,267.11 47.88,267.11 47.88,276.95 53.75,276.95 53.75,286.29 59.62,286.29 59.62,294.25 65.5,294.25 65.5,304.21 71.38,304.21 71.38,312.61 77.25,312.61 77.25,320 83.12,320 83.12,327.89 89,327.89 89,334.88 94.88,334.88 94.88,336.47 100.75,336.47 100.75,336.93 106.62,336.93 106.62,337.05 112.5,337.05 112.5,337.17 118.38,337.17 118.38,337.28 124.25,337.28 124.25,337.4 130.12,337.4 130.12,337.52 136,337.52 136,337.63 141.88,337.63 141.88,337.74 147.75,337.74 147.75,337.85 153.62,337.85 153.62,337.96 159.5,337.96 159.5,342.29 153.62,342.29 153.62,342.32 147.75,342.32 147.75,342.35 141.88,342.35 141.88,342.38 136,342.38 136,342.41 130.12,342.41 130.12,342.43 124.25,342.43 124.25,342.46 118.38,342.46 118.38,342.49 112.5,342.49 112.5,342.51 106.62,342.51 106.62,342.54 100.75,342.54 100.75,342.1 94.88,342.1 94.88,340.51 89,340.51 89,336.77 83.12,336.77 83.12,330.11 77.25,330.11 77.25,323.99 71.38,323.99 71.38,316.84 65.5,316.84 65.5,307.24 59.62,307.24 59.62,299.62 53.75,299.62 53.75,290.62 47.88,290.62 47.88,281.12 42,281.12 42,271.04 36.12,271.04 36.12,259.29 30.25,259.29 30.25,238.43 24.38,238.43" fill="#ff0000" fill-opacity="0.25"/>
<polyline points="18.5,216.4 24.38,216.4 24.38,231.63 30.25,231.63 30.25,251.3 36.12,251.3 36.12,263.48 42,263.48 42,273.89 47.88,273.89 47.88,283.66 53.75,283.66 53.75,292.92 59.62,292.92 59.62,300.79 65.5,300.79 65.5,310.69 71.38,310.69 71.38,318.55 77.25,318.55 77.25,325.41 83.12,325.41 83.12,332.89 89,332.89 89,338.22 94.88,338.22 94.88,340.13 100.75,340.13 100.75,340.76 106.62,340.76 106.62,340.76 112.5,340.76 112.5,340.76 118.38,340.76 118.38,340.76 124.25,340.76 124.25,340.76 130.12,340.76 130.12,340.76 136,340.76 136,340.76 141.88,340.76 141.88,340.76 147.75,340.76 147.75,340.76 153.62,340.76 153.62,340.76 159.5,340.76" fill="none" stroke="#ff0000" stroke-width="1.1"/>
<rect x="106.4" y="314.9" width="50.3" height="32.3" rx="1.2" fill="#fff" fill-opacity="0.8" stroke="#d0d0d0" stroke-width="0.6"/>
<text class="lg" x="131.55" y="321.4" text-anchor="middle">Patient Subtype</text>
<line x1="108" y1="326.9" x2="119" y2="326.9" stroke="#008000" stroke-width="1.15" stroke-opacity="0.72"/>
<text class="lg" x="122.2" y="328.9">Low-Risk</text>
<line x1="108" y1="334.45" x2="119" y2="334.45" stroke="#ffa500" stroke-width="1.15" stroke-opacity="0.72"/>
<text class="lg" x="122.2" y="336.45">Mediate-Risk</text>
<line x1="108" y1="342" x2="119" y2="342" stroke="#ff0000" stroke-width="1.15" stroke-opacity="0.72"/>
<text class="lg" x="122.2" y="344">High-Risk</text>
<rect x="18.5" y="210" width="141" height="139.9" fill="none" stroke="#444" stroke-width="0.75"/>
<line x1="16.1" y1="343.3" x2="18.5" y2="343.3" stroke="#444" stroke-width="0.7"/>
<text class="tk" x="14.8" y="345.3" text-anchor="end">0.0</text>
<line x1="16.1" y1="317.92" x2="18.5" y2="317.92" stroke="#444" stroke-width="0.7"/>
<text class="tk" x="14.8" y="319.92" text-anchor="end">0.2</text>
<line x1="16.1" y1="292.54" x2="18.5" y2="292.54" stroke="#444" stroke-width="0.7"/>
<text class="tk" x="14.8" y="294.54" text-anchor="end">0.4</text>
<line x1="16.1" y1="267.16" x2="18.5" y2="267.16" stroke="#444" stroke-width="0.7"/>
<text class="tk" x="14.8" y="269.16" text-anchor="end">0.6</text>
<line x1="16.1" y1="241.78" x2="18.5" y2="241.78" stroke="#444" stroke-width="0.7"/>
<text class="tk" x="14.8" y="243.78" text-anchor="end">0.8</text>
<line x1="16.1" y1="216.4" x2="18.5" y2="216.4" stroke="#444" stroke-width="0.7"/>
<text class="ser" x="14.8" y="218.4" text-anchor="end">1.0</text>
<line x1="18.5" y1="349.9" x2="18.5" y2="352.3" stroke="#444" stroke-width="0.7"/>
<text class="tk" x="18.5" y="357.3" text-anchor="middle">0</text>
<line x1="47.88" y1="349.9" x2="47.88" y2="352.3" stroke="#444" stroke-width="0.7"/>
<text class="tk" x="47.88" y="357.3" text-anchor="middle">5</text>
<line x1="77.25" y1="349.9" x2="77.25" y2="352.3" stroke="#444" stroke-width="0.7"/>
<text class="tk" x="77.25" y="357.3" text-anchor="middle">10</text>
<line x1="106.62" y1="349.9" x2="106.62" y2="352.3" stroke="#444" stroke-width="0.7"/>
<text class="tk" x="106.62" y="357.3" text-anchor="middle">15</text>
<line x1="136" y1="349.9" x2="136" y2="352.3" stroke="#444" stroke-width="0.7"/>
<text class="tk" x="136" y="357.3" text-anchor="middle">20</text>
<text class="tk" x="89" y="364.2" text-anchor="middle">Time (month)</text>
<text class="yl" transform="translate(5.1,280.2) rotate(-90)" text-anchor="middle">Diabetes Progression-Free Probability</text>
</g>
<g>
<polygon points="193.85,227.04 199.71,227.04 199.71,243.46 205.56,243.46 205.56,254.3 211.42,254.3 211.42,267.95 217.27,267.95 217.27,276.69 223.12,276.69 223.12,287.07 228.98,287.07 228.98,295.42 234.83,295.42 234.83,305.16 240.69,305.16 240.69,311.47 246.54,311.47 246.54,317.88 252.4,317.88 252.4,324.38 258.25,324.38 258.25,330.99 264.1,330.99 264.1,334.27 269.96,334.27 269.96,334.31 275.81,334.31 275.81,335.06 281.67,335.06 281.67,335.09 287.52,335.09 287.52,335.13 293.38,335.13 293.38,335.16 299.23,335.16 299.23,335.79 305.08,335.79 305.08,335.83 310.94,335.83 310.94,335.86 316.79,335.86 316.79,335.9 322.65,335.9 322.65,335.94 328.5,335.94 328.5,339.97 322.65,339.97 322.65,339.99 316.79,339.99 316.79,340.01 310.94,340.01 310.94,340.03 305.08,340.03 305.08,340.05 299.23,340.05 299.23,339.47 293.38,339.47 293.38,339.49 287.52,339.49 287.52,339.51 281.67,339.51 281.67,339.53 275.81,339.53 275.81,338.83 269.96,338.83 269.96,338.85 264.1,338.85 264.1,336.98 258.25,336.98 258.25,331.78 252.4,331.78 252.4,326.68 246.54,326.68 246.54,320.31 240.69,320.31 240.69,314.04 234.83,314.04 234.83,304.34 228.98,304.34 228.98,296.02 223.12,296.02 223.12,285.68 217.27,285.68 217.27,276.98 211.42,276.98 211.42,263.37 205.56,263.37 205.56,252.57 199.71,252.57 199.71,236.29 193.85,236.29" fill="#ff0000" fill-opacity="0.25"/>
<polyline points="188,216.4 193.85,216.4 193.85,230.99 199.71,230.99 199.71,247.74 205.56,247.74 205.56,258.66 211.42,258.66 211.42,272.36 217.27,272.36 217.27,281.12 223.12,281.12 223.12,291.52 228.98,291.52 228.98,299.9 234.83,299.9 234.83,309.67 240.69,309.67 240.69,316.02 246.54,316.02 246.54,322.49 252.4,322.49 252.4,328.33 258.25,328.33 258.25,334.29 264.1,334.29 264.1,336.83 269.96,336.83 269.96,336.83 275.81,336.83 275.81,337.59 281.67,337.59 281.67,337.59 287.52,337.59 287.52,337.59 293.38,337.59 293.38,337.59 299.23,337.59 299.23,338.22 305.08,338.22 305.08,338.22 310.94,338.22 310.94,338.22 316.79,338.22 316.79,338.22 322.65,338.22 322.65,338.22 328.5,338.22" fill="none" stroke="#ff0000" stroke-width="1.1"/>
<polygon points="193.85,217.31 199.71,217.31 199.71,221.18 205.56,221.18 205.56,225.37 211.42,225.37 211.42,230.35 217.27,230.35 217.27,234.6 223.12,234.6 223.12,238.48 228.98,238.48 228.98,243.24 234.83,243.24 234.83,246.36 240.69,246.36 240.69,249.73 246.54,249.73 246.54,254 252.4,254 252.4,257.88 258.25,257.88 258.25,261.77 264.1,261.77 264.1,263.38 269.96,263.38 269.96,264.74 275.81,264.74 275.81,266.1 281.67,266.1 281.67,267.21 287.52,267.21 287.52,267.93 293.38,267.93 293.38,269.04 299.23,269.04 299.23,269.89 305.08,269.89 305.08,271 310.94,271 310.94,271.73 316.79,271.73 316.79,272.32 322.65,272.32 322.65,272.8 328.5,272.8 328.5,280.95 322.65,280.95 322.65,280.41 316.79,280.41 316.79,279.74 310.94,279.74 310.94,278.95 305.08,278.95 305.08,277.77 299.23,277.77 299.23,276.85 293.38,276.85 293.38,275.68 287.52,275.68 287.52,274.88 281.67,274.88 281.67,273.71 275.81,273.71 275.81,272.29 269.96,272.29 269.96,270.86 264.1,270.86 264.1,269.18 258.25,269.18 258.25,265.23 252.4,265.23 252.4,261.27 246.54,261.27 246.54,256.94 240.69,256.94 240.69,253.5 234.83,253.5 234.83,250.31 228.98,250.31 228.98,245.5 223.12,245.5 223.12,241.01 217.27,241.01 217.27,236.16 211.42,236.16 211.42,230.58 205.56,230.58 205.56,225.83 199.71,225.83 199.71,220.38 193.85,220.38" fill="#ffa500" fill-opacity="0.25"/>
<polyline points="188,216.4 193.85,216.4 193.85,218.3 199.71,218.3 199.71,223.13 205.56,223.13 205.56,227.69 211.42,227.69 211.42,233.02 217.27,233.02 217.27,237.59 223.12,237.59 223.12,241.78 228.98,241.78 228.98,246.6 234.83,246.6 234.83,249.77 240.69,249.77 240.69,253.2 246.54,253.2 246.54,257.52 252.4,257.52 252.4,261.45 258.25,261.45 258.25,265.38 264.1,265.38 264.1,267.03 269.96,267.03 269.96,268.43 275.81,268.43 275.81,269.82 281.67,269.82 281.67,270.97 287.52,270.97 287.52,271.73 293.38,271.73 293.38,272.87 299.23,272.87 299.23,273.76 305.08,273.76 305.08,274.9 310.94,274.9 310.94,275.66 316.79,275.66 316.79,276.3 322.65,276.3 322.65,276.8 328.5,276.8" fill="none" stroke="#ffa500" stroke-width="1.1"/>
<polygon points="193.85,216.42 199.71,216.42 199.71,216.41 205.56,216.41 205.56,216.41 211.42,216.41 211.42,216.41 217.27,216.41 217.27,216.41 223.12,216.41 223.12,216.41 228.98,216.41 228.98,216.42 234.83,216.42 234.83,216.42 240.69,216.42 240.69,216.41 246.54,216.41 246.54,216.41 252.4,216.41 252.4,216.44 258.25,216.44 258.25,216.44 264.1,216.44 264.1,217.23 269.96,217.23 269.96,217.73 275.81,217.73 275.81,218.24 281.67,218.24 281.67,218.8 287.52,218.8 287.52,220.38 293.38,220.38 293.38,221.1 299.23,221.1 299.23,222.05 305.08,222.05 305.08,222.19 310.94,222.19 310.94,223.63 316.79,223.63 316.79,224.36 322.65,224.36 322.65,224.73 328.5,224.73 328.5,233.72 322.65,233.72 322.65,233.04 316.79,233.04 316.79,232.01 310.94,232.01 310.94,230.32 305.08,230.32 305.08,229.87 299.23,229.87 299.23,228.65 293.38,228.65 293.38,227.67 287.52,227.67 287.52,226 281.67,226 281.67,224.72 275.81,224.72 275.81,222.73 269.96,222.73 269.96,220.74 264.1,220.74 264.1,218.07 258.25,218.07 258.25,217.89 252.4,217.89 252.4,217.72 246.54,217.72 246.54,217.52 240.69,217.52 240.69,217.36 234.83,217.36 234.83,217.21 228.98,217.21 228.98,217.1 223.12,217.1 223.12,216.96 217.27,216.96 217.27,216.84 211.42,216.84 211.42,216.75 205.56,216.75 205.56,216.68 199.71,216.68 199.71,216.62 193.85,216.62" fill="#008000" fill-opacity="0.25"/>
<polyline points="188,216.4 193.85,216.4 193.85,216.46 199.71,216.46 199.71,216.46 205.56,216.46 205.56,216.46 211.42,216.46 211.42,216.46 217.27,216.46 217.27,216.46 223.12,216.46 223.12,216.46 228.98,216.46 228.98,216.53 234.83,216.53 234.83,216.53 240.69,216.53 240.69,216.53 246.54,216.53 246.54,216.53 252.4,216.53 252.4,216.65 258.25,216.65 258.25,216.65 264.1,216.65 264.1,218.3 269.96,218.3 269.96,219.32 275.81,219.32 275.81,220.33 281.67,220.33 281.67,221.22 287.52,221.22 287.52,223.13 293.38,223.13 293.38,224.01 299.23,224.01 299.23,225.16 305.08,225.16 305.08,225.41 310.94,225.41 310.94,227.06 316.79,227.06 316.79,227.95 322.65,227.95 322.65,228.46 328.5,228.46" fill="none" stroke="#008000" stroke-width="1.1"/>
<rect x="190.9" y="314.6" width="50.3" height="32.4" rx="1.2" fill="#fff" fill-opacity="0.8" stroke="#d0d0d0" stroke-width="0.6"/>
<text class="lg" x="216.05" y="321.1" text-anchor="middle">Patient Subtype</text>
<line x1="192.5" y1="326.6" x2="203.5" y2="326.6" stroke="#ff0000" stroke-width="1.15" stroke-opacity="0.72"/>
<text class="lg" x="206.7" y="328.6">High-Risk</text>
<line x1="192.5" y1="334.15" x2="203.5" y2="334.15" stroke="#ffa500" stroke-width="1.15" stroke-opacity="0.72"/>
<text class="lg" x="206.7" y="336.15">Mediate-Risk</text>
<line x1="192.5" y1="341.7" x2="203.5" y2="341.7" stroke="#008000" stroke-width="1.15" stroke-opacity="0.72"/>
<text class="lg" x="206.7" y="343.7">Low-Risk</text>
<rect x="188" y="210" width="140.5" height="139.5" fill="none" stroke="#444" stroke-width="0.75"/>
<line x1="185.6" y1="343.3" x2="188" y2="343.3" stroke="#444" stroke-width="0.7"/>
<text class="tk" x="184.3" y="345.3" text-anchor="end">0.0</text>
<line x1="185.6" y1="317.92" x2="188" y2="317.92" stroke="#444" stroke-width="0.7"/>
<text class="tk" x="184.3" y="319.92" text-anchor="end">0.2</text>
<line x1="185.6" y1="292.54" x2="188" y2="292.54" stroke="#444" stroke-width="0.7"/>
<text class="tk" x="184.3" y="294.54" text-anchor="end">0.4</text>
<line x1="185.6" y1="267.16" x2="188" y2="267.16" stroke="#444" stroke-width="0.7"/>
<text class="tk" x="184.3" y="269.16" text-anchor="end">0.6</text>
<line x1="185.6" y1="241.78" x2="188" y2="241.78" stroke="#444" stroke-width="0.7"/>
<text class="tk" x="184.3" y="243.78" text-anchor="end">0.8</text>
<line x1="185.6" y1="216.4" x2="188" y2="216.4" stroke="#444" stroke-width="0.7"/>
<text class="ser" x="184.3" y="218.4" text-anchor="end">1.0</text>
<line x1="188" y1="349.5" x2="188" y2="351.9" stroke="#444" stroke-width="0.7"/>
<text class="tk" x="188" y="357.1" text-anchor="middle">0</text>
<line x1="217.27" y1="349.5" x2="217.27" y2="351.9" stroke="#444" stroke-width="0.7"/>
<text class="tk" x="217.27" y="357.1" text-anchor="middle">5</text>
<line x1="246.54" y1="349.5" x2="246.54" y2="351.9" stroke="#444" stroke-width="0.7"/>
<text class="tk" x="246.54" y="357.1" text-anchor="middle">10</text>
<line x1="275.81" y1="349.5" x2="275.81" y2="351.9" stroke="#444" stroke-width="0.7"/>
<text class="tk" x="275.81" y="357.1" text-anchor="middle">15</text>
<line x1="305.08" y1="349.5" x2="305.08" y2="351.9" stroke="#444" stroke-width="0.7"/>
<text class="tk" x="305.08" y="357.1" text-anchor="middle">20</text>
<text class="tk" x="258.25" y="364.2" text-anchor="middle">Time (month)</text>
<text class="yl" transform="translate(175.3,280.2) rotate(-90)" text-anchor="middle">Diabetes Progression-Free Probability</text>
</g>
<g>
<polygon points="378.37,216.53 384.23,216.53 384.23,217.42 390.1,217.42 390.1,218.13 395.97,218.13 395.97,219.06 401.83,219.06 401.83,219.69 407.7,219.69 407.7,220.86 413.57,220.86 413.57,221.53 419.43,221.53 419.43,222.58 425.3,222.58 425.3,223.26 431.17,223.26 431.17,224.3 437.03,224.3 437.03,225.61 442.9,225.61 442.9,226.53 448.77,226.53 448.77,228.09 454.63,228.09 454.63,229.28 460.5,229.28 460.5,230.21 466.37,230.21 466.37,231.65 472.23,231.65 472.23,232.58 478.1,232.58 478.1,233.89 483.97,233.89 483.97,234.82 489.83,234.82 489.83,235.76 495.7,235.76 495.7,236.56 501.57,236.56 501.57,237.12 507.43,237.12 507.43,237.8 513.3,237.8 513.3,242.96 507.43,242.96 507.43,242.11 501.57,242.11 501.57,241.39 495.7,241.39 495.7,240.41 489.83,240.41 489.83,239.31 483.97,239.31 483.97,238.21 478.1,238.21 478.1,236.73 472.23,236.73 472.23,235.63 466.37,235.63 466.37,234.02 460.5,234.02 460.5,232.92 454.63,232.92 454.63,231.57 448.77,231.57 448.77,229.84 442.9,229.84 442.9,228.73 437.03,228.73 437.03,227.25 431.17,227.25 431.17,226.01 425.3,226.01 425.3,225.15 419.43,225.15 419.43,223.92 413.57,223.92 413.57,223.07 407.7,223.07 407.7,221.72 401.83,221.72 401.83,220.81 395.97,220.81 395.97,219.42 390.1,219.42 390.1,218.32 384.23,218.32 384.23,216.89 378.37,216.89" fill="#008000" fill-opacity="0.25"/>
<polyline points="372.5,216.4 378.37,216.4 378.37,216.65 384.23,216.65 384.23,217.8 390.1,217.8 390.1,218.68 395.97,218.68 395.97,219.83 401.83,219.83 401.83,220.59 407.7,220.59 407.7,221.86 413.57,221.86 413.57,222.62 419.43,222.62 419.43,223.76 425.3,223.76 425.3,224.52 431.17,224.52 431.17,225.66 437.03,225.66 437.03,227.06 442.9,227.06 442.9,228.07 448.77,228.07 448.77,229.72 454.63,229.72 454.63,230.99 460.5,230.99 460.5,232.01 466.37,232.01 466.37,233.53 472.23,233.53 472.23,234.55 478.1,234.55 478.1,235.94 483.97,235.94 483.97,236.96 489.83,236.96 489.83,237.97 495.7,237.97 495.7,238.86 501.57,238.86 501.57,239.5 507.43,239.5 507.43,240.26 513.3,240.26" fill="none" stroke="#008000" stroke-width="1.1"/>
<polygon points="378.37,217.08 384.23,217.08 384.23,221.46 390.1,221.46 390.1,226.1 395.97,226.1 395.97,230.77 401.83,230.77 401.83,233.44 407.7,233.44 407.7,238 413.57,238 413.57,241.84 419.43,241.84 419.43,245.55 425.3,245.55 425.3,248.64 431.17,248.64 431.17,250.97 437.03,250.97 437.03,253.42 442.9,253.42 442.9,256.64 448.77,256.64 448.77,258.21 454.63,258.21 454.63,260.03 460.5,260.03 460.5,261.48 466.37,261.48 466.37,262.54 472.23,262.54 472.23,263.23 478.1,263.23 478.1,265.81 483.97,265.81 483.97,267.5 489.83,267.5 489.83,269.96 495.7,269.96 495.7,272.41 501.57,272.41 501.57,272.97 507.43,272.97 507.43,273.4 513.3,273.4 513.3,281.87 507.43,281.87 507.43,281.28 501.57,281.28 501.57,280.57 495.7,280.57 495.7,277.96 489.83,277.96 489.83,275.35 483.97,275.35 483.97,273.5 478.1,273.5 478.1,270.77 472.23,270.77 472.23,269.93 466.37,269.93 466.37,268.71 460.5,268.71 460.5,267.11 454.63,267.11 454.63,265.13 448.77,265.13 448.77,263.4 442.9,263.4 442.9,260.04 437.03,260.04 437.03,257.43 431.17,257.43 431.17,254.94 425.3,254.94 425.3,251.7 419.43,251.7 419.43,247.83 413.57,247.83 413.57,243.84 407.7,243.84 407.7,238.78 401.83,238.78 401.83,235.6 395.97,235.6 395.97,230.43 390.1,230.43 390.1,225.31 384.23,225.31 384.23,219.27 378.37,219.27" fill="#ffa500" fill-opacity="0.25"/>
<polyline points="372.5,216.4 378.37,216.4 378.37,217.8 384.23,217.8 384.23,223.13 390.1,223.13 390.1,228.07 395.97,228.07 395.97,233.02 401.83,233.02 401.83,235.94 407.7,235.94 407.7,240.76 413.57,240.76 413.57,244.7 419.43,244.7 419.43,248.51 425.3,248.51 425.3,251.68 431.17,251.68 431.17,254.09 437.03,254.09 437.03,256.63 442.9,256.63 442.9,259.93 448.77,259.93 448.77,261.58 454.63,261.58 454.63,263.48 460.5,263.48 460.5,265 466.37,265 466.37,266.14 472.23,266.14 472.23,266.91 478.1,266.91 478.1,269.57 483.97,269.57 483.97,271.35 489.83,271.35 489.83,273.89 495.7,273.89 495.7,276.42 501.57,276.42 501.57,277.06 507.43,277.06 507.43,277.57 513.3,277.57" fill="none" stroke="#ffa500" stroke-width="1.1"/>
<polygon points="378.37,222.6 384.23,222.6 384.23,237.44 390.1,237.44 390.1,246.69 395.97,246.69 395.97,254 401.83,254 401.83,263.59 407.7,263.59 407.7,268.69 413.57,268.69 413.57,274.54 419.43,274.54 419.43,281.26 425.3,281.26 425.3,287.11 431.17,287.11 431.17,289.94 437.03,289.94 437.03,293.39 442.9,293.39 442.9,298.58 448.77,298.58 448.77,299.9 454.63,299.9 454.63,302.95 460.5,302.95 460.5,304.75 466.37,304.75 466.37,304.7 472.23,304.7 472.23,304.65 478.1,304.65 478.1,306.93 483.97,306.93 483.97,306.88 489.83,306.88 489.83,306.83 495.7,306.83 495.7,306.78 501.57,306.78 501.57,308.19 507.43,308.19 507.43,308.14 513.3,308.14 513.3,325.15 507.43,325.15 507.43,325.11 501.57,325.11 501.57,323.6 495.7,323.6 495.7,323.56 489.83,323.56 489.83,323.52 483.97,323.52 483.97,323.48 478.1,323.48 478.1,321.1 472.23,321.1 472.23,321.06 466.37,321.06 466.37,321.02 460.5,321.02 460.5,319.13 454.63,319.13 454.63,315.99 448.77,315.99 448.77,314.58 442.9,314.58 442.9,309.3 437.03,309.3 437.03,305.76 431.17,305.76 431.17,302.84 425.3,302.84 425.3,296.91 419.43,296.91 419.43,290.1 413.57,290.1 413.57,284.16 407.7,284.16 407.7,278.98 401.83,278.98 401.83,269.31 395.97,269.31 395.97,261.93 390.1,261.93 390.1,250.82 384.23,250.82 384.23,234.47 378.37,234.47" fill="#ff0000" fill-opacity="0.25"/>
<polyline points="372.5,216.4 378.37,216.4 378.37,227.06 384.23,227.06 384.23,243.43 390.1,243.43 390.1,253.71 395.97,253.71 395.97,261.2 401.83,261.2 401.83,270.97 407.7,270.97 407.7,276.17 413.57,276.17 413.57,282.13 419.43,282.13 419.43,288.99 425.3,288.99 425.3,294.95 431.17,294.95 431.17,297.87 437.03,297.87 437.03,301.42 442.9,301.42 442.9,306.75 448.77,306.75 448.77,308.15 454.63,308.15 454.63,311.32 460.5,311.32 460.5,313.22 466.37,313.22 466.37,313.22 472.23,313.22 472.23,313.22 478.1,313.22 478.1,315.64 483.97,315.64 483.97,315.64 489.83,315.64 489.83,315.64 495.7,315.64 495.7,315.64 501.57,315.64 501.57,317.16 507.43,317.16 507.43,317.16 513.3,317.16" fill="none" stroke="#ff0000" stroke-width="1.1"/>
<rect x="374.9" y="314.6" width="50.3" height="32.4" rx="1.2" fill="#fff" fill-opacity="0.8" stroke="#d0d0d0" stroke-width="0.6"/>
<text class="lg" x="400.05" y="321.1" text-anchor="middle">Patient Subtype</text>
<line x1="376.5" y1="326.6" x2="387.5" y2="326.6" stroke="#008000" stroke-width="1.15" stroke-opacity="0.72"/>
<text class="lg" x="390.7" y="328.6">Low-Risk</text>
<line x1="376.5" y1="334.15" x2="387.5" y2="334.15" stroke="#ffa500" stroke-width="1.15" stroke-opacity="0.72"/>
<text class="lg" x="390.7" y="336.15">Mediate-Risk</text>
<line x1="376.5" y1="341.7" x2="387.5" y2="341.7" stroke="#ff0000" stroke-width="1.15" stroke-opacity="0.72"/>
<text class="lg" x="390.7" y="343.7">High-Risk</text>
<rect x="372.5" y="210" width="140.8" height="139.5" fill="none" stroke="#444" stroke-width="0.75"/>
<line x1="370.1" y1="343.3" x2="372.5" y2="343.3" stroke="#444" stroke-width="0.7"/>
<text class="tk" x="368.8" y="345.3" text-anchor="end">0.0</text>
<line x1="370.1" y1="317.92" x2="372.5" y2="317.92" stroke="#444" stroke-width="0.7"/>
<text class="tk" x="368.8" y="319.92" text-anchor="end">0.2</text>
<line x1="370.1" y1="292.54" x2="372.5" y2="292.54" stroke="#444" stroke-width="0.7"/>
<text class="tk" x="368.8" y="294.54" text-anchor="end">0.4</text>
<line x1="370.1" y1="267.16" x2="372.5" y2="267.16" stroke="#444" stroke-width="0.7"/>
<text class="tk" x="368.8" y="269.16" text-anchor="end">0.6</text>
<line x1="370.1" y1="241.78" x2="372.5" y2="241.78" stroke="#444" stroke-width="0.7"/>
<text class="tk" x="368.8" y="243.78" text-anchor="end">0.8</text>
<line x1="370.1" y1="216.4" x2="372.5" y2="216.4" stroke="#444" stroke-width="0.7"/>
<text class="ser" x="368.8" y="218.4" text-anchor="end">1.0</text>
<line x1="372.5" y1="349.5" x2="372.5" y2="351.9" stroke="#444" stroke-width="0.7"/>
<text class="tk" x="372.5" y="357.1" text-anchor="middle">0</text>
<line x1="401.83" y1="349.5" x2="401.83" y2="351.9" stroke="#444" stroke-width="0.7"/>
<text class="tk" x="401.83" y="357.1" text-anchor="middle">5</text>
<line x1="431.17" y1="349.5" x2="431.17" y2="351.9" stroke="#444" stroke-width="0.7"/>
<text class="tk" x="431.17" y="357.1" text-anchor="middle">10</text>
<line x1="460.5" y1="349.5" x2="460.5" y2="351.9" stroke="#444" stroke-width="0.7"/>
<text class="tk" x="460.5" y="357.1" text-anchor="middle">15</text>
<line x1="489.83" y1="349.5" x2="489.83" y2="351.9" stroke="#444" stroke-width="0.7"/>
<text class="tk" x="489.83" y="357.1" text-anchor="middle">20</text>
<text class="tk" x="442.9" y="364.2" text-anchor="middle">Time (month)</text>
<text class="yl" transform="translate(360.3,280.2) rotate(-90)" text-anchor="middle">Diabetes Progression-Free Probability</text>
</g>
<g>
<polygon points="549.86,226.19 555.73,226.19 555.73,239.94 561.59,239.94 561.59,250.41 567.45,250.41 567.45,261.53 573.31,261.53 573.31,270.71 579.17,270.71 579.17,275.49 585.04,275.49 585.04,282.15 590.9,282.15 590.9,288.31 596.76,288.31 596.76,293.71 602.62,293.71 602.62,297.71 608.49,297.71 608.49,301.71 614.35,301.71 614.35,307.33 620.21,307.33 620.21,310.44 626.08,310.44 626.08,313.28 631.94,313.28 631.94,314.87 637.8,314.87 637.8,314.84 643.66,314.84 643.66,315.81 649.53,315.81 649.53,318 655.39,318 655.39,317.98 661.25,317.98 661.25,317.96 667.11,317.96 667.11,317.93 672.98,317.93 672.98,319.62 678.84,319.62 678.84,320.8 684.7,320.8 684.7,332.88 678.84,332.88 678.84,331.66 672.98,331.66 672.98,329.94 667.11,329.94 667.11,329.93 661.25,329.93 661.25,329.91 655.39,329.91 655.39,329.89 649.53,329.89 649.53,327.67 643.66,327.67 643.66,326.67 637.8,326.67 637.8,326.65 631.94,326.65 631.94,325.03 626.08,325.03 626.08,322.15 620.21,322.15 620.21,319.02 614.35,319.02 614.35,313.36 608.49,313.36 608.49,309.33 602.62,309.33 602.62,305.29 596.76,305.29 596.76,299.85 590.9,299.85 590.9,293.66 585.04,293.66 585.04,286.96 579.17,286.96 579.17,282.16 573.31,282.16 573.31,272.94 567.45,272.94 567.45,261.4 561.59,261.4 561.59,250.54 555.73,250.54 555.73,236.5 549.86,236.5" fill="#ff0000" fill-opacity="0.25"/>
<polyline points="544,216.4 549.86,216.4 549.86,230.49 555.73,230.49 555.73,244.83 561.59,244.83 561.59,255.61 567.45,255.61 567.45,267.03 573.31,267.03 573.31,276.3 579.17,276.3 579.17,281.12 585.04,281.12 585.04,287.84 590.9,287.84 590.9,294.06 596.76,294.06 596.76,299.52 602.62,299.52 602.62,303.58 608.49,303.58 608.49,307.64 614.35,307.64 614.35,313.35 620.21,313.35 620.21,316.52 626.08,316.52 626.08,319.44 631.94,319.44 631.94,321.09 637.8,321.09 637.8,321.09 643.66,321.09 643.66,322.11 649.53,322.11 649.53,324.39 655.39,324.39 655.39,324.39 661.25,324.39 661.25,324.39 667.11,324.39 667.11,324.39 672.98,324.39 672.98,326.17 678.84,326.17 678.84,327.44 684.7,327.44" fill="none" stroke="#ff0000" stroke-width="1.1"/>
<polygon points="549.86,216.46 555.73,216.46 555.73,216.56 561.59,216.56 561.59,216.81 567.45,216.81 567.45,217.89 573.31,217.89 573.31,217.78 579.17,217.78 579.17,218.46 585.04,218.46 585.04,218.98 590.9,218.98 590.9,221.31 596.76,221.31 596.76,222.94 602.62,222.94 602.62,223.87 608.49,223.87 608.49,225.53 614.35,225.53 614.35,225.83 620.21,225.83 620.21,228.8 626.08,228.8 626.08,228.61 631.94,228.61 631.94,233.2 637.8,233.2 637.8,233 643.66,233 643.66,232.75 649.53,232.75 649.53,235.33 655.39,235.33 655.39,237.05 661.25,237.05 661.25,238.65 667.11,238.65 667.11,241.23 672.98,241.23 672.98,243.32 678.84,243.32 678.84,243.06 684.7,243.06 684.7,258.7 678.84,258.7 678.84,258.32 672.98,258.32 672.98,255.61 667.11,255.61 667.11,252.4 661.25,252.4 661.25,250.18 655.39,250.18 655.39,247.83 649.53,247.83 649.53,244.64 643.66,244.64 643.66,244.24 637.8,244.24 637.8,243.92 631.94,243.92 631.94,238.87 626.08,238.87 626.08,238.54 620.21,238.54 620.21,235.1 614.35,235.1 614.35,234.28 608.49,234.28 608.49,232.23 602.62,232.23 602.62,230.9 596.76,230.9 596.76,228.91 590.9,228.91 590.9,225.82 585.04,225.82 585.04,224.35 579.17,224.35 579.17,222.02 573.31,222.02 573.31,221.6 567.45,221.6 567.45,218.93 561.59,218.93 561.59,217.29 555.73,217.29 555.73,216.67 549.86,216.67" fill="#008000" fill-opacity="0.25"/>
<polyline points="544,216.4 549.86,216.4 549.86,216.53 555.73,216.53 555.73,216.78 561.59,216.78 561.59,217.42 567.45,217.42 567.45,219.19 573.31,219.19 573.31,219.19 579.17,219.19 579.17,220.46 585.04,220.46 585.04,221.35 590.9,221.35 590.9,224.27 596.76,224.27 596.76,226.17 602.62,226.17 602.62,227.31 608.49,227.31 608.49,229.22 614.35,229.22 614.35,229.72 620.21,229.72 620.21,233.02 626.08,233.02 626.08,233.02 631.94,233.02 631.94,237.97 637.8,237.97 637.8,237.97 643.66,237.97 643.66,237.97 649.53,237.97 649.53,240.89 655.39,240.89 655.39,242.92 661.25,242.92 661.25,244.83 667.11,244.83 667.11,247.74 672.98,247.74 672.98,250.16 678.84,250.16 678.84,250.16 684.7,250.16" fill="none" stroke="#008000" stroke-width="1.1"/>
<polygon points="549.86,218.35 555.73,218.35 555.73,224.83 561.59,224.83 561.59,229.94 567.45,229.94 567.45,235.2 573.31,235.2 573.31,239.21 579.17,239.21 579.17,242.84 585.04,242.84 585.04,246.7 590.9,246.7 590.9,251.7 596.76,251.7 596.76,255.56 602.62,255.56 602.62,258.79 608.49,258.79 608.49,262.53 614.35,262.53 614.35,266.27 620.21,266.27 620.21,268.5 626.08,268.5 626.08,270.47 631.94,270.47 631.94,271.17 637.8,271.17 637.8,272 643.66,272 643.66,273.59 649.53,273.59 649.53,276.19 655.39,276.19 655.39,277.02 661.25,277.02 661.25,278.86 667.11,278.86 667.11,280.83 672.98,280.83 672.98,283.05 678.84,283.05 678.84,284.01 684.7,284.01 684.7,293.02 678.84,293.02 678.84,291.95 672.98,291.95 672.98,289.62 667.11,289.62 667.11,287.54 661.25,287.54 661.25,285.59 655.39,285.59 655.39,284.64 649.53,284.64 649.53,281.93 643.66,281.93 643.66,280.23 637.8,280.23 637.8,279.29 631.94,279.29 631.94,278.47 626.08,278.47 626.08,276.39 620.21,276.39 620.21,274.05 614.35,274.05 614.35,270.2 608.49,270.2 608.49,266.35 602.62,266.35 602.62,263.01 596.76,263.01 596.76,259.03 590.9,259.03 590.9,253.92 585.04,253.92 585.04,249.96 579.17,249.96 579.17,245.72 573.31,245.72 573.31,241.1 567.45,241.1 567.45,235.24 561.59,235.24 561.59,229.53 555.73,229.53 555.73,222.4 549.86,222.4" fill="#ffa500" fill-opacity="0.25"/>
<polyline points="544,216.4 549.86,216.4 549.86,219.83 555.73,219.83 555.73,226.93 561.59,226.93 561.59,232.39 567.45,232.39 567.45,237.97 573.31,237.97 573.31,242.29 579.17,242.29 579.17,246.22 585.04,246.22 585.04,250.16 590.9,250.16 590.9,255.23 596.76,255.23 596.76,259.17 602.62,259.17 602.62,262.46 608.49,262.46 608.49,266.27 614.35,266.27 614.35,270.08 620.21,270.08 620.21,272.36 626.08,272.36 626.08,274.39 631.94,274.39 631.94,275.15 637.8,275.15 637.8,276.04 643.66,276.04 643.66,277.69 649.53,277.69 649.53,280.36 655.39,280.36 655.39,281.25 661.25,281.25 661.25,283.15 667.11,283.15 667.11,285.18 672.98,285.18 672.98,287.46 678.84,287.46 678.84,288.48 684.7,288.48" fill="none" stroke="#ffa500" stroke-width="1.1"/>
<rect x="546.7" y="314.6" width="50.1" height="32.4" rx="1.2" fill="#fff" fill-opacity="0.8" stroke="#d0d0d0" stroke-width="0.6"/>
<text class="lg" x="571.75" y="321.1" text-anchor="middle">Patient Subtype</text>
<line x1="548.3" y1="326.6" x2="559.3" y2="326.6" stroke="#ff0000" stroke-width="1.15" stroke-opacity="0.72"/>
<text class="lg" x="562.5" y="328.6">High-Risk</text>
<line x1="548.3" y1="334.15" x2="559.3" y2="334.15" stroke="#008000" stroke-width="1.15" stroke-opacity="0.72"/>
<text class="lg" x="562.5" y="336.15">Low-Risk</text>
<line x1="548.3" y1="341.7" x2="559.3" y2="341.7" stroke="#ffa500" stroke-width="1.15" stroke-opacity="0.72"/>
<text class="lg" x="562.5" y="343.7">Mediate-Risk</text>
<rect x="544" y="210" width="140.7" height="139.5" fill="none" stroke="#444" stroke-width="0.75"/>
<line x1="541.6" y1="343.3" x2="544" y2="343.3" stroke="#444" stroke-width="0.7"/>
<text class="tk" x="540.3" y="345.3" text-anchor="end">0.0</text>
<line x1="541.6" y1="317.92" x2="544" y2="317.92" stroke="#444" stroke-width="0.7"/>
<text class="tk" x="540.3" y="319.92" text-anchor="end">0.2</text>
<line x1="541.6" y1="292.54" x2="544" y2="292.54" stroke="#444" stroke-width="0.7"/>
<text class="tk" x="540.3" y="294.54" text-anchor="end">0.4</text>
<line x1="541.6" y1="267.16" x2="544" y2="267.16" stroke="#444" stroke-width="0.7"/>
<text class="tk" x="540.3" y="269.16" text-anchor="end">0.6</text>
<line x1="541.6" y1="241.78" x2="544" y2="241.78" stroke="#444" stroke-width="0.7"/>
<text class="tk" x="540.3" y="243.78" text-anchor="end">0.8</text>
<line x1="541.6" y1="216.4" x2="544" y2="216.4" stroke="#444" stroke-width="0.7"/>
<text class="ser" x="540.3" y="218.4" text-anchor="end">1.0</text>
<line x1="544" y1="349.5" x2="544" y2="351.9" stroke="#444" stroke-width="0.7"/>
<text class="tk" x="544" y="357.1" text-anchor="middle">0</text>
<line x1="573.31" y1="349.5" x2="573.31" y2="351.9" stroke="#444" stroke-width="0.7"/>
<text class="tk" x="573.31" y="357.1" text-anchor="middle">5</text>
<line x1="602.62" y1="349.5" x2="602.62" y2="351.9" stroke="#444" stroke-width="0.7"/>
<text class="tk" x="602.62" y="357.1" text-anchor="middle">10</text>
<line x1="631.94" y1="349.5" x2="631.94" y2="351.9" stroke="#444" stroke-width="0.7"/>
<text class="tk" x="631.94" y="357.1" text-anchor="middle">15</text>
<line x1="661.25" y1="349.5" x2="661.25" y2="351.9" stroke="#444" stroke-width="0.7"/>
<text class="tk" x="661.25" y="357.1" text-anchor="middle">20</text>
<text class="tk" x="614.35" y="364.2" text-anchor="middle">Time (month)</text>
<text class="yl" transform="translate(530.3,280.2) rotate(-90)" text-anchor="middle">Diabetes Progression-Free Probability</text>
</g>
<text class="hd" x="123.4" y="7.75"><tspan font-weight="bold">A</tspan>. Cohort 2018-2020</text>
<text class="hd" x="473.9" y="8.6"><tspan font-weight="bold">B.</tspan> Cohort 2021-2022</text>
<text class="ti" x="8.7" y="22.0"><tspan font-weight="bold">(A.1)</tspan> KM curve for PD-onset HbA1c groups</text>
<text class="ti" x="199.6" y="22.4"><tspan font-weight="bold">(A.2)</tspan> KM curve for Risk Subtypes</text>
<text class="ti" x="358.8" y="23.6"><tspan font-weight="bold">(B.1)</tspan> KM curve for PD-onset HbA1c groups</text>
<text class="ti" x="553.0" y="23.2"><tspan font-weight="bold">(B.2)</tspan> KM curve for Risk Subtypes</text>
<text class="tib" x="20.8" y="195">(A.3)</text>
<text class="ti" x="44.01" y="195">KM</text>
<text class="ti" x="62.71" y="195">curves</text>
<text class="ti" x="89.95" y="195">from</text>
<text class="ti" x="111.49" y="195">risk</text>
<text class="ti" x="129.24" y="195">subtypes</text>
<text class="ti" x="21.3" y="205.4">from PD-onset HbA1c 5.7-5.9 group.</text>
<text class="tib" x="185.8" y="195">(A.4)</text>
<text class="ti" x="208.75" y="195">KM</text>
<text class="ti" x="227.19" y="195">curves</text>
<text class="ti" x="254.17" y="195">from</text>
<text class="ti" x="275.45" y="195">risk</text>
<text class="ti" x="292.94" y="195">subtypes</text>
<text class="ti" x="186.3" y="205.4">from PD-onset HbA1c 6.0-6.4 group.</text>
<text class="tib" x="370.9" y="193.6">(B.3)</text>
<text class="ti" x="393.51" y="193.6">KM</text>
<text class="ti" x="412.08" y="193.6">curves</text>
<text class="ti" x="439.2" y="193.6">from</text>
<text class="ti" x="460.62" y="193.6">risk</text>
<text class="ti" x="478.24" y="193.6">subtypes</text>
<text class="ti" x="371.3" y="204.6">from PD-onset HbA1c 5.7-5.9 group.</text>
<text class="tib" x="545.6" y="194.6">(B.4)</text>
<text class="ti" x="567.03" y="194.6">KM</text>
<text class="ti" x="584.42" y="194.6">curves</text>
<text class="ti" x="610.36" y="194.6">from</text>
<text class="ti" x="630.6" y="194.6">risk</text>
<text class="ti" x="647.04" y="194.6">subtypes</text>
<text class="ti" x="545.6" y="205.2">from PD-onset HbA1c 6.0-6.4 group.</text>
</svg></div>
</body></html>
